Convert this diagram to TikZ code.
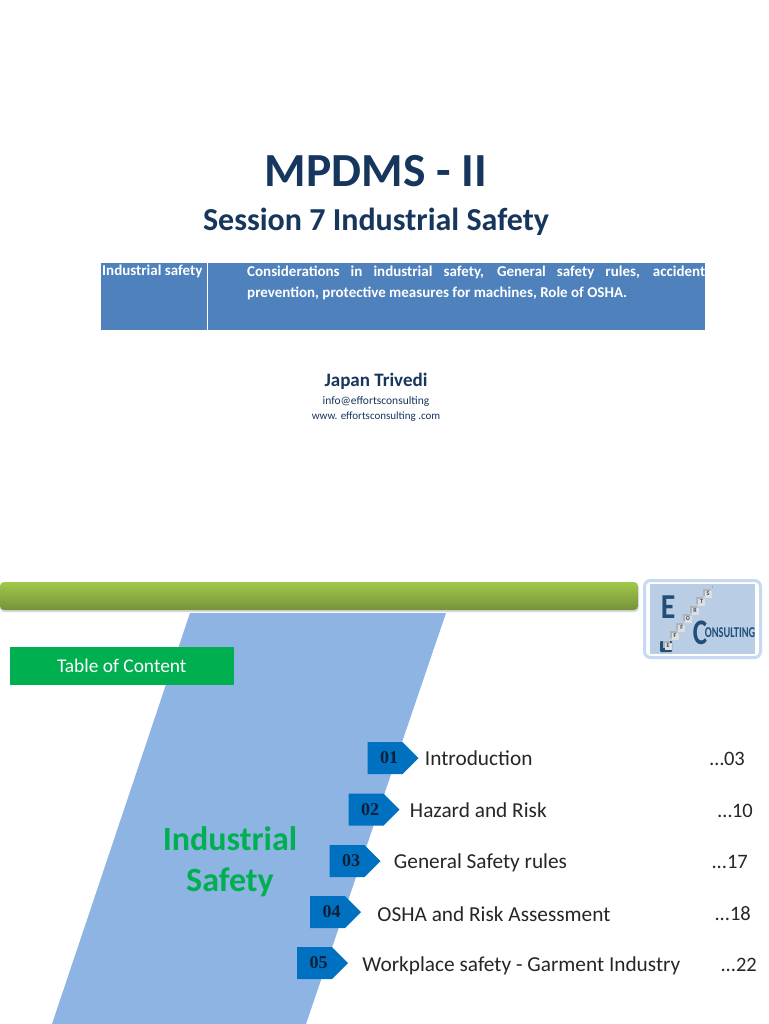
\documentclass[tikz,border=0pt]{standalone}
\usepackage{fontspec}
\setmainfont{Carlito}
\newfontfamily\numfont{Liberation Serif}
\usetikzlibrary{calc,positioning}
\usetikzlibrary{shapes.symbols}
\definecolor{navy}{HTML}{17365D}
\definecolor{cellblue}{HTML}{4F81BD}
\definecolor{slantblue}{HTML}{8EB4E3}
\definecolor{tocgreen}{HTML}{00B050}
\definecolor{arrowblue}{HTML}{0070C0}
\definecolor{logoblue}{HTML}{B9CDE5}
\definecolor{logoedge}{HTML}{C6D9F1}
\definecolor{logonavy}{HTML}{1F4E79}
\definecolor{bartop}{HTML}{A0C94A}
\definecolor{barbottom}{HTML}{76923A}
\newcommand{\px}[1]{\fontsize{#1}{#1}\selectfont}

\begin{document}
\begin{tikzpicture}[x=1pt,y=-1pt,inner sep=0pt]
    \tikzstyle{title}=[text=navy, font=\bfseries, anchor=center]
    \tikzstyle{cell}=[fill=cellblue, minimum height=67pt, anchor=north west]
    \tikzstyle{celltext}=[text=white, font=\bfseries\px{15}, anchor=north west]
    \tikzstyle{tocarrow}=[signal, signal to=east, signal from=nowhere, signal pointer angle=90,
      fill=arrowblue, minimum width=51pt, minimum height=32pt, text=navy!60!black,
      font=\numfont\bfseries\px{18}, execute at begin node=\hspace*{8pt}]
    \tikzstyle{tocitem}=[text=black!85, font=\px{21.3}, anchor=west]
    \tikzstyle{tocpage}=[text=black!85, font=\px{20.5}, anchor=east]
    \tikzstyle{cube}=[fill=gray!25, minimum size=7pt, font=\bfseries\px{6}, text=logonavy]
    \tikzstyle{cubeside}=[fill=gray!60, minimum size=7pt]

    \useasboundingbox (0,0) rectangle (768,1024);
    \fill[white] (0,0) rectangle (768,1024);

    % top slide
    \node[title, font=\bfseries\px{47.5}]      (main)    at (376,171) {MPDMS - II};
    \node[title, font=\bfseries\px{32}]        (session) at (376,222) {Session 7 Industrial Safety};
    \node[cell, minimum width=106pt]           (topic)   at (101,263) {};
    \node[cell, minimum width=497pt]           (detail)  at (208,263) {};
    \node[celltext]                            (topictext) at (102,265) {Industrial safety};
    \node[celltext, text width=458pt, align=justify, font=\bfseries\fontsize{15}{21}\selectfont]
      (detailtext) at (247,265.5) {Considerations in industrial safety, General safety rules, accident\linebreak prevention, protective measures for machines, Role of OSHA.};
    \node[title, font=\bfseries\px{19}]        (author)  at (376,381) {Japan Trivedi};
    \node[title, font=\px{11.5}]               (mail)    at (376,401) {info@effortsconsulting};
    \node[title, font=\px{11}]                 (web)     at (376,416.5) {www. effortsconsulting .com};

    % bottom slide
    \fill[slantblue] (190,613) -- (446,613) -- (306,1024) -- (52,1024) -- cycle;
    \fill[black!15, rounded corners=4pt] (0,584) rectangle (639,612);
    \shade[top color=bartop, bottom color=barbottom, rounded corners=4pt] (0,582) rectangle (638,610);
    \node[fill=tocgreen, minimum width=223.5pt, minimum height=38pt, text=white, font=\px{19.4}]
      (toc) at (121.75,666) {Table of Content};
    \node[text=tocgreen, font=\bfseries\fontsize{34}{41}\selectfont, align=center] (topicname) at (230,862)
      {Industrial\\Safety};

    \node[tocarrow] (arrow1) at (385,758) {01};
    \node[tocarrow] (arrow2) at (366,809.5) {02};
    \node[tocarrow] (arrow3) at (347,861) {03};
    \node[tocarrow] (arrow4) at (327.5,912) {04};
    \node[tocarrow] (arrow5) at (314.5,963) {05};

    \node[tocitem, right=6pt of arrow1]  (item1) {Introduction};
    \node[tocitem, right=10pt of arrow2, yshift=-1pt] (item2) {Hazard and Risk};
    \node[tocitem, right=13pt of arrow3, yshift=-2pt] (item3) {General Safety rules};
    \node[tocitem, right=16pt of arrow4, yshift=-2pt] (item4) {OSHA and Risk Assessment};
    \node[tocitem, right=14pt of arrow5, yshift=-3pt] (item5) {Workplace safety - Garment Industry};

    \node[tocpage] (page1) at (745,759) {…03};
    \node[tocpage] (page2) at (753,811) {…10};
    \node[tocpage] (page3) at (748,862) {...17};
    \node[tocpage] (page4) at (751,914) {...18};
    \node[tocpage] (page5) at (757,965) {...22};

    % logo
    \draw[logoedge, fill=white, line width=3pt, rounded corners=6pt] (644.5,580.5) rectangle (760.5,657.5);
    \fill[logoblue] (650,584) rectangle (755,654);
    \node[text=logonavy, font=\bfseries\px{35}, xscale=.85, transform shape] (logoe) at (668,607) {E};
    \node[text=logonavy, font=\bfseries\px{36}, xscale=.75, transform shape] (logoc) at (700,633) {C};
    \node[text=logonavy, font=\bfseries\px{15}, xscale=.69, transform shape] (logorest) at (730,633) {ONSULTING};
    \fill[logonavy, rounded corners=1pt] (660,641) rectangle (672,652);
    \foreach \i/\cx/\cy/\letter in {1/668/646/E,2/675/636/F,3/681.7/628/F,4/688/619/O,5/695/611/R,6/701.5/602/T,7/708/594/S}{
      \node[cubeside] (side\i) at (\cx-2,\cy-1.5) {};
      \node[cube] (stair\i) at (\cx,\cy) {\letter};
    }
    \node[text=logonavy, font=\px{4}] (logomark) at (713,588) {®};
\end{tikzpicture}
\end{document}
